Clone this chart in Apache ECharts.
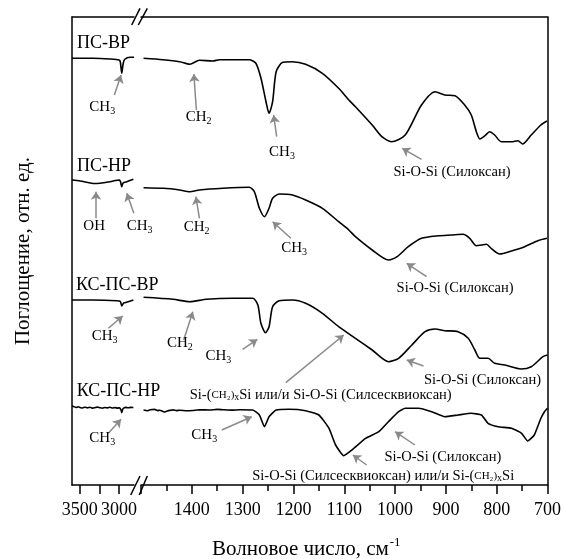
<!DOCTYPE html>
<html><head><meta charset="utf-8">
<script src="https://cdn.jsdelivr.net/npm/echarts@6/dist/echarts.min.js"></script>
<style>html,body{margin:0;padding:0;background:#fff}#c{width:564px;height:559px}</style>
</head><body><div id="c"></div>
<script>
const FONT = '"Liberation Serif","Times New Roman",serif';

// ---- axis ticks ----
const leftTickLabels = [3500, 3000];
const leftTicks = [3500, 3250, 3000];
const rightTickLabels = [1400, 1300, 1200, 1100, 1000, 900, 800, 700];

// ---- spectra: [wavenumber cm-1, absorbance (rel. units)] ----
const psVrLeft = [[3600,426.7],[3332,426.7],[3115,426],[3000,425],[2984,423],[2966,411.7],[2949,421],[2930,425.5],[2860,427.7],[2809,427.7]];
const psVrRight = [[1495,426.7],[1457,425.3],[1424,423.3],[1404,420.7],[1385,424.7],[1359,424],[1345,425.3],[1287,425.3],[1274,421.7],[1264,407],[1254,383.3],[1248,371.7],[1241,383.3],[1234,413.3],[1221,422.7],[1202,423.3],[1176,420.7],[1143,411.7],[1111,396.7],[1091,385],[1078,378.3],[1045,360],[1026,348.3],[1007,343.3],[980,350],[948,380],[921,393.3],[902,390],[882,389.3],[863,380],[850,370],[840,353.3],[833,346],[823,349.3],[814,353.3],[804,350],[791,343.3],[771,343.3],[758,344.3],[749,341],[732,350],[713,360],[701,364]];

const psNrLeft = [[3600,305],[3498,304],[3400,302.5],[3332,301.5],[3243,301.8],[3115,303.3],[2996,305],[2981,303],[2966,298.3],[2949,302],[2902,303.3],[2818,305.7]];
const psNrRight = [[1495,297.3],[1456,296.7],[1424,295],[1404,293.3],[1385,295],[1339,296.7],[1287,297.7],[1277,293.3],[1267,276.7],[1257,268.3],[1248,276.7],[1241,286.7],[1228,291],[1202,290],[1176,285],[1143,276.7],[1111,263.3],[1091,255],[1078,248.3],[1045,235],[1013,225],[996,228.3],[974,238.3],[948,246.7],[915,249.3],[889,250],[866,250.7],[853,246.7],[840,239.3],[830,240],[820,240.7],[811,236.7],[794,231],[771,234],[745,238.3],[719,244.3],[701,246.7]];

const ksPsVrLeft = [[3600,185],[3332,185],[3030,184.3],[2984,183.5],[2966,179],[2943,182],[2924,182.3],[2818,185]];
const ksPsVrRight = [[1495,187.7],[1437,185.7],[1404,183.3],[1371,185.7],[1319,186.7],[1280,186.7],[1270,180],[1264,161.7],[1255,152.3],[1248,158.3],[1241,178.3],[1228,184.3],[1202,185],[1176,181.7],[1143,171.7],[1111,158.3],[1078,146.7],[1045,135],[1013,123.3],[993,126.7],[967,140],[941,153.3],[921,156],[902,154.3],[876,153.3],[856,146.7],[843,135],[833,126.7],[817,126.7],[804,121.7],[784,120],[752,116],[732,118.3],[709,128.3],[700,130]];

const ksPsNrLeft = [[3600,79],[3574,78.3],[3549,77.5],[3523,78.2],[3498,77.6],[3466,77],[3434,77.8],[3402,77.1],[3370,77.8],[3338,76.9],[3307,77.4],[3275,77.9],[3243,77.2],[3211,76.8],[3179,77.5],[3147,77.1],[3115,77.7],[3083,77],[3051,77.4],[3019,76.9],[2994,77.3],[2975,75],[2966,72.3],[2955,75.5],[2943,76.8],[2915,77.6],[2885,77.2],[2850,77.6],[2818,77.5]];
const ksPsNrRight = [[1495,75],[1488,74.2],[1482,75.3],[1473,75.6],[1467,74.4],[1463,74.8],[1457,73.6],[1453,73],[1448,74],[1443,74.6],[1437,75.1],[1430,74.4],[1424,74.8],[1410,74.2],[1398,74.5],[1385,75.2],[1365,75],[1350,75.6],[1339,75.3],[1320,74.9],[1306,75.2],[1280,75],[1267,70],[1257,58.3],[1248,68.3],[1234,75],[1209,75.7],[1176,74.3],[1150,70],[1130,56.7],[1117,40],[1101,29.3],[1085,35],[1058,46.7],[1032,53.3],[1013,63.3],[993,73.3],[980,76.7],[954,76.7],[928,73.3],[902,68.3],[876,70],[850,71.7],[830,70],[817,61.7],[797,58.3],[771,56.7],[751,51.7],[739,44],[726,50],[713,66.7],[706,73.3],[700,76.7]];

// ---- annotation texts ----
const CH3 = '{n|CH}{s|3}';
const CH2 = '{n|CH}{s|2}';
const SILOX = '{t|Si-O-Si (Силоксан)}';
const SILSES_A = '{t|Si-(}{c|CH₂)}{x|x}{t|Si или/и Si-O-Si (Силсесквиоксан)}';
const SILSES_B = '{t|Si-O-Si (Силсесквиоксан) или/и Si-(}{c|CH₂)}{x|x}{t|Si}';

const rich = {
  n: {fontFamily: FONT, fontSize: 15, color: '#000'},
  s: {fontFamily: FONT, fontSize: 10, color: '#000', padding: [9, 0, 0, 0]},
  t: {fontFamily: FONT, fontSize: 14.5, color: '#000'},
  c: {fontFamily: FONT, fontSize: 11, color: '#000'},
  x: {fontFamily: FONT, fontSize: 10, color: '#000', padding: [5, 0, 0, 0]},
  L: {fontFamily: FONT, fontSize: 18, color: '#000'}
};

function txt(w, v, f) {
  return {coord: [w, v], symbol: 'circle', symbolSize: 0,
    label: {show: true, position: [0, 0], align: 'left', verticalAlign: 'middle', formatter: f, rich: rich}};
}
function arr(w1, v1, w2, v2) { return [{coord: [w1, v1]}, {coord: [w2, v2]}]; }

const leftTexts = [
  txt(3536, 441.7, '{L|ПС-ВР}'),
  txt(3379, 378, CH3),
  txt(3536, 318.3, '{L|ПС-НР}'),
  txt(3456, 259.3, '{n|OH}'),
  txt(2902, 259.3, CH3),
  txt(3549, 200, '{L|КС-ПС-ВР}'),
  txt(3349, 149, CH3),
  txt(3540, 93.3, '{L|КС-ПС-НР}'),
  txt(3379, 46.7, CH3)
];
const leftArrows = [
  arr(3060, 390, 2975, 410),
  arr(3294, 266.7, 3294, 293.3),
  arr(2812, 271.7, 2902, 291.7),
  arr(3137, 156.7, 2953, 169),
  arr(3137, 51.7, 2975, 65.7)
];
const rightTexts = [
  txt(1412, 368.3, CH2),
  txt(1248, 333.3, CH3),
  txt(1003, 313.3, SILOX),
  txt(1416, 258.3, CH2),
  txt(1224, 236.7, CH3),
  txt(997, 196.7, SILOX),
  txt(1449, 142.3, CH2),
  txt(1373, 129, CH3),
  txt(1404, 90, SILSES_A),
  txt(943, 105.3, SILOX),
  txt(1401, 50, CH3),
  txt(1021, 28.3, SILOX),
  txt(1281, 9, SILSES_B)
];
const rightArrows = [
  arr(1391, 375, 1396, 411),
  arr(1233, 348.3, 1239, 370),
  arr(948, 325.7, 986, 336.7),
  arr(1385, 266.7, 1392, 288.3),
  arr(1205, 246.7, 1241, 263.3),
  arr(938, 208.3, 977, 221.7),
  arr(1416, 145, 1398, 173.3),
  arr(1300, 135.7, 1271, 145.7),
  arr(1215, 102.3, 1101, 150),
  arr(944, 119, 977, 125),
  arr(1341, 55, 1282, 68.3),
  arr(961, 40, 1000, 53.3),
  arr(1056, 20, 1083, 30)
];

const lineStyle = {color: '#000', width: 1.6};
function spec(name, data, g, extra) {
  return Object.assign({
    type: 'line', name: name, data: data, xAxisIndex: g === 0 ? 0 : 2, yAxisIndex: g,
    showSymbol: false, smooth: 0.25, lineStyle: lineStyle, silent: true, animation: false, clip: false
  }, extra || {});
}
const markLineCommon = {symbol: ['none', 'arrow'], symbolSize: 8, silent: true, animation: false,
  lineStyle: {type: 'solid', color: '#8a8a8a', width: 1.5}, label: {show: false}};
const markPointCommon = {silent: true, animation: false};
const plain = v => String(v);

const chart = echarts.init(document.getElementById('c'), null, {renderer: 'canvas'});
const axisLineStyle = {show: true, lineStyle: {color: '#000', width: 1.5}};
chart.setOption({
  backgroundColor: '#fff',
  animation: false,
  title: {
    text: '{a|Волновое число, см}{b|-1}', left: 207, top: 531,
    textStyle: {fontWeight: 'normal', rich: {a: {fontFamily: FONT, fontSize: 21, fontWeight: 'normal', color: '#000'},
                       b: {fontFamily: FONT, fontSize: 13, fontWeight: 'normal', color: '#000', padding: [0, 0, 14, 1]}}}
  },
  grid: [
    {left: 72, width: 62, top: 17, bottom: 74},
    {left: 141, right: 14, top: 17, bottom: 74}
  ],
  xAxis: [
    {type: 'value', gridIndex: 0, position: 'bottom', min: 2810, max: 3600, inverse: true,
     axisLine: axisLineStyle, splitLine: {show: false},
     axisTick: {show: true, inside: false, length: 9, customValues: leftTicks, lineStyle: {color: '#000', width: 1.5}},
     axisLabel: {customValues: leftTickLabels, formatter: plain, hideOverlap: false, showMinLabel: true, showMaxLabel: true,
                 margin: 16, fontFamily: FONT, fontSize: 18, color: '#000'}},
    {type: 'value', gridIndex: 0, position: 'top', min: 2810, max: 3600, inverse: true,
     axisLine: axisLineStyle, axisTick: {show: false}, axisLabel: {show: false}, splitLine: {show: false}},
    {type: 'value', gridIndex: 1, position: 'bottom', min: 700, max: 1500, interval: 100, inverse: true,
     axisLine: axisLineStyle, splitLine: {show: false},
     axisTick: {show: true, inside: false, length: 9, lineStyle: {color: '#000', width: 1.5}},
     minorTick: {show: true, splitNumber: 2, length: 6, lineStyle: {color: '#000', width: 1.5}},
     axisLabel: {formatter: v => (rightTickLabels.indexOf(v) >= 0 ? String(v) : ''), showMaxLabel: false, showMinLabel: true,
                 margin: 16, fontFamily: FONT, fontSize: 18, color: '#000'}},
    {type: 'value', gridIndex: 1, position: 'top', min: 700, max: 1500, inverse: true,
     axisLine: axisLineStyle, axisTick: {show: false}, axisLabel: {show: false}, splitLine: {show: false}}
  ],
  yAxis: [
    {type: 'value', gridIndex: 0, position: 'left', min: 0, max: 468,
     axisLine: axisLineStyle, axisTick: {show: false}, axisLabel: {show: false}, splitLine: {show: false},
     name: 'Поглощение, отн. ед.', nameLocation: 'middle', nameGap: 38,
     nameTextStyle: {fontFamily: FONT, fontSize: 21, color: '#000'}},
    {type: 'value', gridIndex: 1, position: 'right', min: 0, max: 468,
     axisLine: axisLineStyle, axisTick: {show: false}, axisLabel: {show: false}, splitLine: {show: false}}
  ],
  series: [
    spec('ПС-ВР', psVrLeft, 0, {
      markLine: Object.assign({data: leftArrows}, markLineCommon),
      markPoint: Object.assign({data: leftTexts}, markPointCommon)}),
    spec('ПС-ВР', psVrRight, 1, {
      markLine: Object.assign({data: rightArrows}, markLineCommon),
      markPoint: Object.assign({data: rightTexts}, markPointCommon)}),
    spec('ПС-НР', psNrLeft, 0),
    spec('ПС-НР', psNrRight, 1),
    spec('КС-ПС-ВР', ksPsVrLeft, 0),
    spec('КС-ПС-ВР', ksPsVrRight, 1),
    spec('КС-ПС-НР', ksPsNrLeft, 0, {smooth: 0.1}),
    spec('КС-ПС-НР', ksPsNrRight, 1, {smooth: 0.15})
  ],
  graphic: [
    {type: 'line', shape: {x1: 131.7, y1: 25, x2: 140, y2: 8.3}, style: {stroke: '#000', lineWidth: 1.5}, silent: true},
    {type: 'line', shape: {x1: 138.3, y1: 25, x2: 147.3, y2: 8.3}, style: {stroke: '#000', lineWidth: 1.5}, silent: true},
    {type: 'line', shape: {x1: 130.7, y1: 495, x2: 140, y2: 476}, style: {stroke: '#000', lineWidth: 1.5}, silent: true},
    {type: 'line', shape: {x1: 139.3, y1: 495, x2: 147.3, y2: 476}, style: {stroke: '#000', lineWidth: 1.5}, silent: true}
  ]
});
</script>
</body></html>
